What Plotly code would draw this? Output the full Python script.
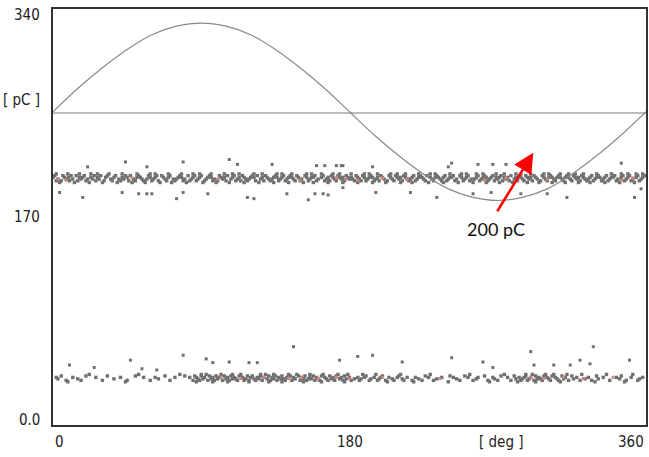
import plotly.graph_objects as go

# ---- data ----
sine_deg = list(range(0, 361, 15))
sine_pc = [256, 275, 292, 307, 319, 326, 328.5, 326, 319, 307, 292, 275, 256,
           237, 220, 205, 193, 186, 183.5, 186, 193, 205, 220, 237, 256]
threshold_pc = 255

# upper pulse band (core rows: pC level -> phase positions in deg)
upper_rows = {
    205.2: [2, 9, 16, 23, 27, 34, 42, 51, 59, 62, 70, 78, 85, 89, 96, 104, 109, 113, 122, 127,
            136, 139, 145, 154, 157, 163, 170, 174, 181, 189, 192, 197, 205, 209, 214, 222, 229,
            232, 241, 248, 251, 257, 261, 269, 274, 281, 284, 290, 298, 301, 308, 313, 317, 322,
            330, 339, 345, 349, 354, 358],
    203.8: [1, 6, 11, 14, 19, 25, 29, 33, 38, 44, 47, 52, 58, 63, 66, 71, 77, 82, 86, 90, 95,
            101, 106, 110, 115, 121, 124, 129, 135, 140, 144, 148, 153, 159, 164, 169, 173,
            178, 184, 188, 193, 199, 204, 208, 213, 219, 223, 227, 233, 238, 243, 247, 252,
            258, 262, 267, 272, 278, 283, 287, 292, 297, 302, 307, 312, 316, 321, 327, 331,
            336, 341, 346, 350, 355, 359],
    202.4: [0, 7, 9.5, 16, 18, 23, 27, 32, 37, 42, 45, 51, 53, 59, 62, 67, 70, 76, 78, 85, 89,
            94, 96, 102, 104, 109, 113, 116, 120, 122, 127, 130, 134, 136, 139, 143, 145, 149,
            154, 157, 158, 163, 167, 170, 174, 176, 179, 181, 185, 189, 192, 194, 197, 200,
            205, 209, 211, 214, 218, 222, 224, 229, 232, 234, 237, 241, 242, 248, 251, 257,
            261, 263, 266, 269, 271, 274, 276, 281, 284, 288, 290, 293, 298, 301, 303, 306,
            308, 311, 313, 317, 319, 322, 326, 330, 332, 335, 339, 340, 345, 349, 354, 358],
    201.0: [3, 8, 12, 17, 21, 24, 28, 35, 40, 43, 49, 54, 57, 61, 68, 73, 75, 80, 84, 88, 93,
            98, 103, 108, 112, 117, 119, 126, 131, 133, 138, 142, 146, 151, 156, 161, 166,
            171, 175, 180, 182, 186, 191, 196, 201, 206, 210, 215, 217, 221, 225, 230, 235,
            240, 245, 250, 254, 256, 260, 265, 270, 275, 280, 285, 289, 294, 299, 304, 309,
            314, 318, 323, 325, 329, 334, 338, 343, 348, 352, 357],
    199.6: [2, 5, 10, 15, 20, 26, 31, 36, 41, 46, 50, 55, 60, 64, 69, 74, 79, 83, 87, 92, 97,
            100, 105, 111, 114, 118, 123, 128, 132, 137, 141, 147, 150, 155, 160, 165, 168,
            172, 177, 183, 187, 190, 195, 198, 203, 207, 212, 216, 220, 226, 231, 236, 239,
            244, 249, 253, 259, 264, 268, 273, 277, 282, 286, 291, 296, 300, 305, 310, 315,
            320, 324, 328, 333, 337, 342, 347, 351, 356],
    198.2: [4, 13, 22, 30, 39, 48, 56, 65, 72, 81, 91, 99, 107, 116, 125, 134, 143, 152, 158,
            167, 176, 185, 194, 202, 211, 218, 228, 237, 246, 255, 263, 271, 279, 288, 295,
            303, 311, 319, 326, 335, 344, 353],
}
upper_out_deg = [107, 112, 79, 44, 57, 21, 133, 160, 165, 172, 175, 242, 258, 267, 275, 194,
                 176, 240, 345,
                 4, 18, 42, 52, 57, 60, 75, 79, 94, 118, 122, 142, 155, 159, 164, 167, 176,
                 196, 217, 233, 255, 266, 284, 300, 312, 353, 357]
upper_out_pc = [217, 213, 215, 215, 211, 211, 213, 212, 212, 212, 212, 214, 213, 213, 213, 211,
                212, 211, 214,
                190, 186, 190, 189, 189, 189, 185, 190, 189, 186, 185, 189, 184, 189, 189, 188,
                194, 190, 190, 186, 189, 190, 189, 189, 186, 186, 193]
upper_red_deg = [3, 8, 48, 100, 150, 172, 178, 185, 200, 215, 262, 275, 300, 345, 352]
upper_red_pc = [201, 200, 202, 201, 200, 202, 201, 200, 202, 201, 200, 202, 201, 200, 202]

# lower pulse band
lower_rows = {
    41.3: [22, 52, 77, 90, 93, 102, 109, 114, 126, 129, 134, 143, 148, 156, 164, 173, 179, 188,
           196, 211, 229, 253, 274, 287, 291, 299, 304, 312, 321, 336, 352],
    40.1: [5, 20, 33, 50, 68, 80, 86, 90, 95, 99, 104, 108, 113, 118, 121, 126, 131, 135, 139,
           144, 149, 153, 158, 163, 168, 172, 177, 190, 200, 210, 226, 241, 250, 262, 272,
           280, 287, 293, 298, 303, 309, 315, 330, 345],
    38.9: [2, 12, 26, 41, 55, 62, 74, 83, 87, 92, 97, 101, 106, 110, 115, 120, 124, 128, 133,
           137, 142, 146, 151, 156, 160, 165, 170, 175, 180, 185, 189, 195, 199, 204, 209,
           215, 220, 228, 236, 243, 252, 258, 267, 276, 283, 286, 290, 295, 300, 305, 311,
           318, 325, 334, 342, 351, 358],
    37.7: [3, 15, 37, 64, 88, 91, 96, 100, 105, 109, 111, 117, 122, 125, 130, 134, 138, 140,
           147, 152, 155, 157, 161, 166, 169, 174, 178, 183, 187, 193, 198, 206, 212, 222, 233,
           245, 257, 268, 281, 285, 289, 294, 296, 301, 306, 310, 316, 323, 331, 344, 356],
    36.5: [8, 17, 30, 45, 59, 71, 85, 89, 94, 98, 103, 107, 112, 116, 119, 123, 127, 132, 136,
           141, 145, 150, 154, 159, 162, 167, 171, 176, 181, 186, 192, 197, 202, 207, 213,
           218, 224, 231, 247, 255, 264, 270, 278, 284, 288, 292, 297, 302, 307, 313, 320,
           327, 338, 348, 355],
    35.3: [9, 44, 87, 97, 106, 119, 131, 139, 152, 163, 177, 203, 219, 240, 265, 282, 293, 308,
           329, 347],
}
lower_out_deg = [10, 47, 79, 146, 174, 93, 97, 107, 119, 124, 25, 63, 54, 194, 185, 212, 242,
                 290, 328, 320, 292, 304, 314, 326, 350, 261, 267]
lower_out_pc = [49, 53, 57, 64, 53, 54, 51, 51.5, 51, 51, 47, 45, 46, 57, 56, 51.5, 55,
                60, 64, 53, 49, 49, 49, 50, 53, 51.5, 47]
lower_red_deg = [102, 114, 128, 143, 151, 161, 172, 180, 200, 235, 290, 298, 310, 322, 340]
lower_red_pc = [39, 38, 39, 38, 39, 38, 39, 38, 39, 38, 39, 38, 39, 38, 39]

y_tick_vals = [0, 170, 340, 266]
y_tick_text = ["0.0", "170", "340", "[ pC ]"]
y_tick_shift = [5, 0, -5.5, 0]
x_tick_vals = [0, 180, 272, 360]
x_tick_text = ["0", "180", "[ deg ]", "360"]
x_tick_anchor = ["left", "center", "center", "right"]

GRAY = "#707070"
RED = "#d88080"

fig = go.Figure()


def add_points(xs, ys, color, size=3):
    fig.add_trace(go.Scatter(x=xs, y=ys, mode="markers",
                             marker=dict(symbol="square", size=size, color=color, line=dict(width=0)),
                             hoverinfo="skip", showlegend=False))


for rows in (upper_rows, lower_rows):
    for level, degs in rows.items():
        add_points(degs, [level] * len(degs), GRAY, 3.4)
add_points(upper_out_deg, upper_out_pc, GRAY)
add_points(lower_out_deg, lower_out_pc, GRAY)
add_points(upper_red_deg, upper_red_pc, RED)
add_points(lower_red_deg, lower_red_pc, RED)

fig.add_trace(go.Scatter(x=sine_deg, y=sine_pc, mode="lines",
                         line=dict(color="#8a8a8a", width=1.2, shape="spline"),
                         hoverinfo="skip", showlegend=False))
fig.add_trace(go.Scatter(x=[0, 360], y=[threshold_pc, threshold_pc], mode="lines",
                         line=dict(color="#7a7a7a", width=1),
                         hoverinfo="skip", showlegend=False))

tick_font = dict(family="Liberation Sans Narrow, Arial Narrow, DejaVu Sans Condensed, sans-serif",
                 size=15, color="#222222")

annotations = []
for v, t, s in zip(y_tick_vals, y_tick_text, y_tick_shift):
    annotations.append(dict(x=0, xref="paper", y=v, yref="y", text=t, showarrow=False,
                            xanchor="right", yanchor="middle", xshift=-11, yshift=s,
                            font=tick_font))
for v, t, a in zip(x_tick_vals, x_tick_text, x_tick_anchor):
    annotations.append(dict(x=v, xref="x", y=0, yref="paper", text=t, showarrow=False,
                            xanchor=a, yanchor="middle", yshift=-17, font=tick_font))

# red arrow and its label
annotations.append(dict(x=291.6, y=222.5, xref="x", yref="y", text="", showarrow=True,
                        arrowhead=2, arrowsize=1.6, arrowwidth=2.5, arrowcolor="#ff0000",
                        ax=-37, ay=60, standoff=0))
annotations.append(dict(x=269, y=160, xref="x", yref="y", text="200 pC", showarrow=False,
                        xanchor="center", yanchor="middle",
                        font=dict(family="Lato, Open Sans, sans-serif", size=18, color="#111111")))

fig.update_layout(
    width=649, height=457,
    margin=dict(l=53, r=1, t=9, b=32),
    paper_bgcolor="white", plot_bgcolor="white",
    annotations=annotations,
    showlegend=False,
)
fig.update_xaxes(range=[0, 360], showgrid=False, zeroline=False, showticklabels=False,
                 ticks="", showline=True, linecolor="#333333", linewidth=2, mirror=True)
fig.update_yaxes(range=[0, 340], showgrid=False, zeroline=False, showticklabels=False,
                 ticks="", showline=True, linecolor="#333333", linewidth=2, mirror=True)

# remove the default page margin so the 649x457 figure fills the window exactly
fig.write_html("out.html", config={"displayModeBar": False},
               post_script="document.body.style.margin='0px';document.body.style.overflow='hidden';")
